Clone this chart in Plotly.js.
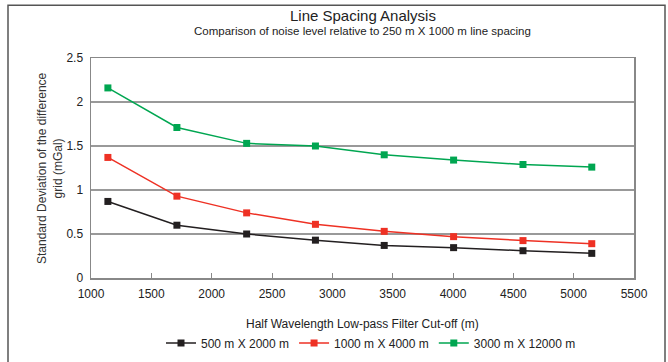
<!DOCTYPE html>
<html>
<head>
<meta charset="utf-8">
<script src="https://cdn.plot.ly/plotly-3.0.1.min.js"></script>
<style>
html,body{margin:0;padding:0;background:#fff;}
#chart{width:668px;height:362px;}
</style>
</head>
<body>
<div id="chart"></div>
<script>
// Data
const cutoff = [1140, 1712, 2290, 2860, 3430, 4005, 4580, 5150];
const s500x2000 = [0.87, 0.60, 0.50, 0.43, 0.37, 0.345, 0.31, 0.28];
const s1000x4000 = [1.37, 0.93, 0.74, 0.61, 0.53, 0.47, 0.425, 0.39];
const s3000x12000 = [2.16, 1.71, 1.53, 1.50, 1.40, 1.34, 1.29, 1.26];
const seriesNames = ["500 m X 2000 m", "1000 m X 4000 m", "3000 m X 12000 m"];
const seriesColors = ["#231f20", "#ee3124", "#00a651"];
const xTicks = [1000, 1500, 2000, 2500, 3000, 3500, 4000, 4500, 5000, 5500];
const yTicks = [0, 0.5, 1, 1.5, 2, 2.5];

const allSeries = [s500x2000, s1000x4000, s3000x12000];
const traces = allSeries.map((ys, i) => ({
  x: cutoff, y: ys, type: 'scatter', mode: 'lines+markers', name: seriesNames[i],
  line: {color: seriesColors[i], width: 1.5},
  marker: {symbol: 'square', size: 7, color: seriesColors[i]}
}));

const fam = 'Liberation Sans, Arial, sans-serif';
const B = 277.7, H = 220, L = 91, W = 543;
const layout = {
  width: 668, height: 362,
  margin: {l: 91, r: 34, t: 58, b: 84, autoexpand: false},
  paper_bgcolor: '#fff', plot_bgcolor: '#fff',
  font: {family: fam, color: '#222', size: 12},
  showlegend: true,
  legend: {orientation: 'h', xref: 'container', yref: 'container',
           x: 371 / 668, xanchor: 'center', y: (362 - 343) / 362, yanchor: 'middle',
           font: {family: fam, size: 12, color: '#222'}, itemwidth: 30, tracegroupgap: 0},
  xaxis: {range: [1000, 5500], tickvals: xTicks, ticktext: xTicks.map(String),
          ticks: 'inside', ticklen: 5, tickcolor: '#888', showgrid: false, zeroline: false,
          showline: true, linecolor: '#888', linewidth: 1.5, mirror: true,
          ticklabelstandoff: 4, tickfont: {family: fam, size: 12, color: '#222'}},
  yaxis: {range: [0, 2.5], tickvals: yTicks, ticktext: yTicks.map(String),
          ticks: '', showgrid: true, gridcolor: '#999', gridwidth: 1.5, zeroline: false,
          showline: true, linecolor: '#888', linewidth: 1.5, mirror: true,
          ticklabelstandoff: 4, tickfont: {family: fam, size: 12, color: '#222'}},
  annotations: [
    {text: 'Line Spacing Analysis', xref: 'paper', yref: 'paper', x: 0.5, y: (B - 15) / H,
     showarrow: false, xanchor: 'center', yanchor: 'middle', font: {size: 15, color: '#222', family: fam}},
    {text: 'Comparison of noise level relative to 250 m X 1000 m line spacing', xref: 'paper', yref: 'paper',
     x: 0.5, y: (B - 31) / H, showarrow: false, xanchor: 'center', yanchor: 'middle',
     font: {size: 11.5, color: '#222', family: fam}},
    {text: 'Half Wavelength Low-pass Filter Cut-off (m)', xref: 'paper', yref: 'paper',
     x: 0.5, y: (B - 324) / H, showarrow: false, xanchor: 'center', yanchor: 'middle',
     font: {size: 12, color: '#222', family: fam}},
    {text: 'Standard Deviation of the difference<br>grid (mGal)', xref: 'paper', yref: 'paper',
     x: (50 - L) / W, y: 0.5, showarrow: false, textangle: -90, xanchor: 'center', yanchor: 'middle',
     font: {size: 12, color: '#333', family: fam}}
  ],
  shapes: [
    {type: 'rect', xref: 'paper', yref: 'paper',
     x0: (8 - L) / W, x1: (665 - L) / W, y0: (B - 380) / H, y1: (B - 5) / H,
     line: {color: '#555', width: 1.5}, fillcolor: 'rgba(0,0,0,0)', layer: 'below'}
  ]
};

Plotly.newPlot('chart', traces, layout, {displayModeBar: false, staticPlot: true});
</script>
</body>
</html>
